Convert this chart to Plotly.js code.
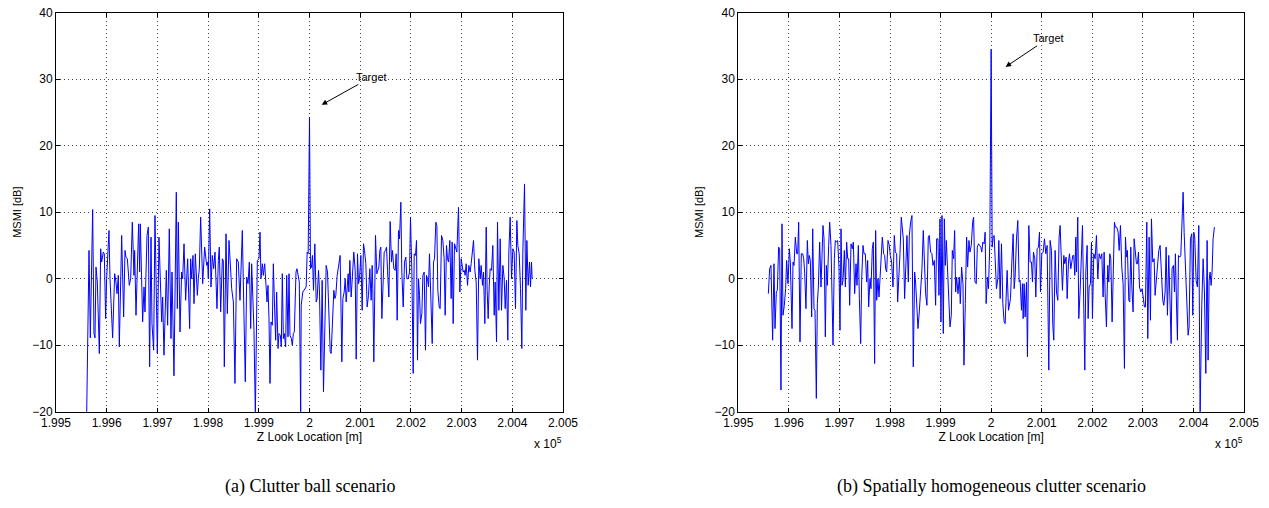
<!DOCTYPE html>
<html>
<head>
<meta charset="utf-8">
<script src="https://cdn.plot.ly/plotly-3.0.1.min.js"></script>
<style>html,body{margin:0;padding:0;background:#fff;}#chart{width:1269px;height:508px;}</style>
</head>
<body>
<div id="chart"></div>
<script>
// Z look location offsets in metres relative to 2.000 x 10^5 m, and MSMI in dB
// (a) Clutter ball scenario
const zOffsetA = [-439.5,-434.9,-432.3,-427.7,-425.1,-423.1,-421.1,-418.5,-414.5,-411.9,-410.0,-406.7,-404.7,-402.1,-400.1,-395.5,-393.5,-388.3,-384.3,-381.7,-379.7,-377.1,-375.1,-370.5,-366.6,-363.9,-362.0,-359.3,-355.4,-352.7,-349.5,-346.2,-344.9,-342.2,-337.0,-335.0,-333.7,-329.1,-326.4,-324.5,-320.5,-317.9,-315.3,-312.6,-310.7,-307.4,-304.8,-300.1,-296.9,-291.6,-289.6,-287.0,-282.4,-279.8,-276.5,-273.2,-271.2,-267.3,-262.7,-260.7,-258.7,-255.4,-252.2,-250.2,-247.5,-244.3,-240.3,-236.4,-234.4,-232.4,-229.8,-227.8,-225.2,-221.2,-219.3,-217.3,-214.7,-210.7,-206.8,-202.8,-200.9,-199.6,-196.9,-194.3,-191.7,-189.0,-186.4,-182.5,-179.8,-177.9,-175.2,-171.9,-170.0,-168.0,-164.7,-162.1,-158.8,-153.5,-150.2,-147.0,-143.7,-140.4,-137.1,-132.5,-129.2,-126.6,-123.9,-121.3,-118.7,-116.0,-114.1,-111.4,-109.5,-106.8,-102.9,-99.6,-97.6,-95.7,-93.0,-91.1,-88.4,-85.8,-83.8,-81.9,-79.9,-77.9,-75.9,-73.3,-71.3,-68.7,-66.7,-64.8,-62.1,-60.2,-57.5,-55.6,-53.6,-51.6,-49.6,-47.0,-45.0,-42.4,-40.4,-38.5,-35.8,-33.9,-31.9,-29.9,-26.6,-24.7,-22.0,-20.1,-17.4,-16.4,-13.2,-9.9,-6.6,-4.6,-2.6,0,2.0,3.9,5.9,7.9,10.5,13.2,15.1,17.8,19.7,22.4,25.0,27.6,30.2,32.9,35.5,38.1,40.8,42.7,45.4,48.0,50.0,51.9,54.6,57.9,60.5,63.8,65.8,68.4,70.4,72.3,75.0,76.3,77.6,79.6,82.2,84.8,87.4,90.1,92.1,94.7,96.7,98.6,101.3,103.9,106.5,108.5,111.1,113.7,116.4,119.0,121.6,123.6,124.9,126.9,130.2,132.8,134.8,136.8,138.7,140.7,142.7,144.7,147.3,149.9,151.9,153.9,156.5,159.1,161.7,163.7,166.3,169.0,171.0,172.9,175.6,177.5,180.2,182.1,184.8,187.4,190.0,192.0,194.6,197.3,199.2,201.9,204.5,206.5,209.1,211.1,213.0,215.0,217.0,218.9,221.6,223.6,226.2,228.8,230.8,232.8,234.7,236.7,239.3,242.0,244.6,246.6,249.2,251.2,253.1,255.8,257.7,260.4,263.0,265.6,267.6,270.2,272.2,274.2,276.8,279.4,281.4,283.4,286.0,288.0,290.6,293.9,296.5,299.2,301.1,303.1,305.1,307.0,309.0,311.7,314.3,316.9,318.9,321.5,323.5,326.1,328.8,331.4,334.0,336.6,338.6,341.2,343.2,345.8,348.5,350.4,352.4,354.4,356.4,359.0,361.6,364.3,366.2,368.9,370.8,373.5,376.1,378.7,381.4,384.0,386.0,388.6,391.2,393.2,395.8,398.5,401.1,403.7,406.3,409.0,410.9,413.6,416.2,418.8,420.8,424.1,426.7,428.7,431.3,434.0,435.9,437.9,439.2];
const msmiA = [-20.5,4.25,-8.9,10.4,-8.25,-8.9,1.75,-0.5,-11.25,4.5,2.5,4,3.75,-6,0,7.25,0,-8.9,0.75,-0.5,-2.25,0.5,-10.25,6.5,-5.75,4.25,3.25,3,-1,0,8.5,0.5,4.25,-5.5,8.25,1,8.25,-6.5,-1.25,-5,6.5,7.75,-13.25,6.25,-6.75,-10.75,9.5,-11.25,6.25,-6.5,-2.75,-11.5,1.25,-7,7.5,-9,1,-14.6,13,-4.5,8.5,-8,1,0,5.25,-3.25,3,-7.5,3,0,3.5,-3.75,3.75,-2.5,0,1.5,9.25,-0.75,4.75,2,2.5,0,10.5,-1.25,3.5,1.5,4,-4.5,2.75,4.75,-5,3,2.75,-13.25,6.75,-5.25,5.75,-1.5,-3.5,-15.75,3,2.5,-3.25,7.25,-5.75,-15.5,0.25,-0.75,2.5,-7.5,2.25,-4.25,-7.75,-20.5,2.75,3,7,0,2.25,0.5,2.25,-1,-3.5,-1,-6,-15.75,-6.5,-7,2.25,-4.75,-9.25,-2,-10.5,-8.25,-8.5,-10.25,0.75,-9,-8.25,-10.25,0.5,-8.75,0.75,-8.5,-9,-10,-8.25,-8,1,1.5,0.5,-0.5,-20.5,-4,-2,-1.5,-1.25,4,3.75,24.25,1.5,1.75,3.5,-1.75,5.25,-3.5,-3,1.25,-2,-13.75,-0.25,-17,-7,2,1,-5.5,-11,-11.25,-6.75,-1.75,-3,-2.5,0.5,2.5,3.5,-12.5,-3,-2,0,-3.5,0.75,0.75,-2,2.75,-2.75,1.75,4,1.25,-12.1,3.75,-0.75,0,3.5,-4.75,5.25,4.25,2.25,-4.25,-2.5,1.5,-3.25,2,-1.5,-12.5,6.5,0.75,1.5,1.75,4.25,4.75,-6,-1,4,4.25,4.75,1.25,-2.75,8.6,2.5,4.25,1.5,1.25,3.75,-6.25,7.25,6,11.5,1,-4.25,2.5,3.25,0,0,1,9.25,1,-14.25,3.75,3.5,5.75,-12.25,0,-2.5,-6.75,-5.25,0.5,1,-10.75,0.5,0,-1.25,3.75,-3.75,-9.75,2.5,3,8.5,8,-1.75,-4.25,-4.5,6.5,5.75,3,-5.5,5,3,2.5,5.75,-3,5.5,-6.75,5.25,4.5,4,10.75,-2,3,1.5,1,1.25,0.5,2.25,-1,2,1,2.25,3.75,5.75,1.25,-0.5,-12.25,3,0,2,-1,1,-6.75,7.75,-1.75,-6,-1.25,1.5,1.25,5,-5.5,-0.5,-9.5,8.5,-4.75,6,-4.75,2,0,-4.5,-0.25,-9.25,4,9.25,0,4.5,4,-4.5,8.75,5,3.75,-1.5,-10.5,4,14.25,-4.75,5.75,-1,2.5,-1.25,2.5,0];

// (b) Spatially homogeneous clutter scenario
const zOffsetB = [-440.6,-438.0,-435.4,-432.1,-429.4,-427.4,-424.8,-422.8,-420.2,-418.2,-415.6,-413.6,-411.6,-409.0,-406.4,-404.4,-401.7,-399.1,-397.1,-393.8,-391.8,-389.8,-387.2,-384.5,-382.6,-380.6,-378.0,-375.4,-372.7,-370.7,-368.8,-366.2,-363.5,-361.5,-359.6,-357.6,-354.9,-352.9,-350.3,-348.3,-345.7,-343.7,-341.7,-339.1,-336.5,-334.5,-332.5,-330.5,-327.9,-325.9,-323.9,-321.3,-319.3,-316.7,-314.7,-312.7,-310.1,-308.1,-305.5,-303.5,-300.9,-298.9,-296.9,-294.9,-292.9,-290.3,-288.3,-285.7,-283.7,-281.7,-279.8,-277.1,-274.5,-272.5,-269.9,-267.2,-265.3,-262.6,-260.6,-258.0,-256.0,-253.4,-251.4,-248.8,-246.2,-244.2,-242.2,-239.6,-237.6,-235.0,-233.0,-230.4,-228.4,-226.4,-223.8,-221.8,-219.8,-217.2,-215.2,-212.6,-210.6,-208.6,-206.6,-204.0,-201.4,-199.4,-196.8,-194.1,-191.5,-189.5,-186.9,-184.9,-182.3,-180.3,-177.7,-175.7,-173.7,-171.1,-169.1,-166.5,-163.8,-161.8,-159.2,-156.6,-154.0,-151.3,-149.4,-146.7,-144.7,-142.1,-139.5,-136.8,-134.2,-131.6,-129.6,-127.0,-124.3,-122.3,-119.7,-117.1,-115.1,-112.4,-109.8,-107.8,-105.2,-103.2,-101.2,-99.2,-97.2,-94.6,-92.6,-90.6,-88.6,-86.0,-84.1,-81.4,-78.8,-76.8,-74.2,-72.2,-70.2,-68.3,-65.6,-63.0,-61.0,-58.4,-55.7,-53.8,-51.1,-48.5,-46.5,-43.9,-41.9,-39.3,-36.6,-34.7,-32.0,-29.4,-27.4,-24.8,-22.8,-20.4,-18.5,-16.5,-13.8,-11.9,-9.9,-7.2,-5.3,-2.6,0,2.0,4.0,5.9,7.9,10.5,13.2,15.2,17.8,20.4,23.1,25.7,27.7,29.7,31.6,34.3,36.2,38.2,40.9,43.5,45.5,47.4,50.1,52.7,55.4,57.3,60.0,61.9,63.3,65.2,67.2,69.9,71.8,74.5,77.1,79.7,81.7,83.7,86.3,88.3,90.9,93.6,95.6,97.5,100.2,102.8,105.4,108.1,110.7,114.0,116.6,119.3,121.9,123.9,126.5,129.2,131.8,134.4,136.4,139.0,141.0,143.7,145.6,148.3,150.3,152.9,154.9,157.5,159.5,161.5,163.4,165.4,167.4,168.7,171.3,173.3,176.0,177.9,180.6,183.2,185.2,187.2,189.8,191.8,193.7,196.4,198.4,200.3,203.0,205.6,208.2,210.9,213.5,216.2,218.8,221.4,223.4,225.4,228.0,230.6,232.6,234.6,236.6,239.2,241.2,243.8,245.8,248.4,251.1,253.1,255.7,258.3,261.0,263.6,265.6,267.6,269.5,272.2,274.1,276.1,278.1,280.7,282.7,285.3,287.3,289.3,291.3,293.3,295.9,298.5,300.5,303.1,305.1,307.8,309.7,312.4,315.0,317.0,319.6,322.3,324.2,326.9,328.8,331.5,334.1,336.7,339.4,341.4,344.0,346.0,348.6,351.2,353.9,355.9,357.8,360.5,362.5,364.4,366.4,368.4,370.4,373.0,375.0,377.0,379.6,381.6,384.2,386.8,389.5,391.4,394.1,396.7,398.7,400.7,402.6,405.3,407.9,410.6,413.2,416.5,419.2,421.8,424.5,427.1,429.0,431.0,433.0,434.9,436.9,438.9,441.5];
const msmiB = [-2.25,1.5,2,-9.25,2.25,-7.5,-2,-1.75,4.75,4.5,-16.75,8.25,-5.5,-4,-1.5,2.75,-0.75,4.5,2.5,-7.5,2.5,2,6.25,3.75,3.75,8.5,-9.5,3.75,3.75,3,1,-4.5,5.75,2.25,3.5,2.75,-5.75,7.5,-4.5,-4.75,-18,-3.75,-1.25,5.5,-1.25,4,8,6,-8.75,2,-1,5,8.5,5,-1.25,-10,3,5.75,5.5,5.75,1.75,-7.75,7.5,-1,-0.25,4.25,-1.25,5.5,3,3,-4,5.25,4.5,5.5,-2.25,2.25,-1,5,-3,-9.75,0,5,3.75,3.75,-0.5,2.75,-4.25,0,-1.5,4.5,5.5,-12.75,7.25,-3.25,0,-2.75,0,4,6.25,3.75,3.5,1.5,1,5.75,5,3.5,2.5,-1.25,6.5,4,3.75,-3.5,2.5,3.75,9.25,8,6,-3,0.5,6.5,-0.5,6.5,8.5,9.5,-13.25,1,-0.5,-4.25,-7.5,-5,-2.5,1.5,7.25,1.75,-2.25,-4,6.25,6.5,4,3.75,2,2.75,-4,6,6,-2.5,9,-6.5,9.5,-8.25,9,2,5.75,1,-2.5,-7.25,-5.5,4.25,3,7.25,-2,0.25,-2.25,0.25,-3.75,1.75,-0.75,-13,-3.75,6.25,1.75,5.75,4,5,8.5,9.25,-0.5,-0.75,4.75,5.25,5,4.75,4,5.5,5.25,7,-3.75,0.25,-1.5,5.5,34.5,4.75,6.25,6.5,3,-1.5,0,5.75,-3,5.25,-3.75,-6.5,-6.75,-0.25,1.25,-4.75,-3.75,-3,2.5,6.75,-1.5,0.25,6,8.75,-0.5,-0.25,-4.75,-0.75,-6,-0.75,-5.75,-0.5,-11.75,8,2.5,2.5,-0.5,4,3,-2.75,4.5,4.75,7,-2,3.75,4,6,3.75,5,-13.75,5.75,4.25,-7,-9.25,4.25,-2,-3.25,6.25,8,0.25,-1.75,3.5,2.25,3.25,-3,2.5,3.75,1.5,3,3.5,3.5,0.5,6.25,1,9.25,-6,-1.75,2.5,8,-4.5,-13.75,1,5,-6,-1.25,-0.75,5.5,-6,3.75,3,6.5,0,3.75,3,3.75,-2.75,4,-2.25,-7.25,2,-0.5,3.75,3,-6.5,3,8.5,7.75,7.75,7,4.25,8,1.75,-0.75,-13.5,6.25,3.25,4.25,-3.25,-3.5,4.75,-1,-5,6,4.25,2.25,2.25,4,-1.25,-2,-1.5,-2.75,-4.25,-4.25,8.5,-9,6.25,-6.25,9,2.5,3,-2.5,0,2.25,4.25,5,-0.5,-3.25,-4,-2,4.75,-5.5,3.5,-3,-9.75,1.5,2,-2,3.75,-3.5,-9.25,3.5,3.25,3.5,7,13,7,1,-3.5,-8.5,-7.25,6,6.75,-5.5,7,6.25,-0.25,-1.25,8,-20.5,-4,3,-2,-14.25,5.75,-12.25,-0.25,1,-1,1,6,7.75];

const xTickVals = [1.995,1.996,1.997,1.998,1.999,2.000,2.001,2.002,2.003,2.004,2.005];
const xTickText = ['1.995','1.996','1.997','1.998','1.999','2','2.001','2.002','2.003','2.004','2.005'];
const yTickVals = [-20,-10,0,10,20,30,40];
const targetA = {head: [24, 26.15], text: [123, 30.35]};
const targetB = {head: [28.6, 31.85], text: [113, 36.15]};
const captions = ['(a) Clutter ball scenario', '(b) Spatially homogeneous clutter scenario'];

const W = 1269, H = 508;
const toX = off => 2 + off / 1e5;   // axis unit: x 10^5 m

const lineStyle = {color: '#0000ff', width: 1};
const traces = [
  {x: zOffsetA.map(toX), y: msmiA, type: 'scatter', mode: 'lines', line: lineStyle, xaxis: 'x', yaxis: 'y', hoverinfo: 'skip'},
  {x: zOffsetB.map(toX), y: msmiB, type: 'scatter', mode: 'lines', line: lineStyle, xaxis: 'x2', yaxis: 'y2', hoverinfo: 'skip'}
];

const axFont = {family: 'Liberation Sans, Arial, Helvetica, sans-serif', size: 12, color: '#000'};
function xAxis(dom, anchor) {
  return {
    domain: dom, anchor: anchor, range: [1.995, 2.005], tickmode: 'array',
    tickvals: xTickVals, ticktext: xTickText, ticks: 'inside', ticklen: 4, tickcolor: '#000',
    showline: true, linecolor: '#000', linewidth: 1, mirror: 'ticks',
    showgrid: true, gridcolor: 'rgba(0,0,0,0.75)', gridwidth: 1, griddash: '1px,3px',
    zeroline: false, tickfont: axFont, ticklabelstandoff: 0,
    title: {text: 'Z Look Location [m]', font: {family: axFont.family, size: 12, color: '#000'}, standoff: 2}
  };
}
function yAxis(anchor) {
  return {
    domain: [1 - 411.7 / H, 1 - 12.7 / H], anchor: anchor, range: [-20, 40], tickmode: 'array',
    tickvals: yTickVals, ticks: 'inside', ticklen: 4, tickcolor: '#000',
    showline: true, linecolor: '#000', linewidth: 1, mirror: 'ticks',
    showgrid: true, gridcolor: 'rgba(0,0,0,0.75)', gridwidth: 1, griddash: '1px,3px',
    zeroline: false, tickfont: axFont,
    title: {text: 'MSMI [dB]', font: {family: axFont.family, size: 11, color: '#000'}, standoff: 8}
  };
}

const annFont = {family: 'Liberation Sans, Arial, Helvetica, sans-serif', size: 11, color: '#000'};
function targetAnn(t, xr, yr) {
  return {x: toX(t.head[0]), y: t.head[1], xref: xr, yref: yr, axref: xr, ayref: yr,
    ax: toX(t.text[0]), ay: t.text[1], text: 'Target', showarrow: true,
    arrowhead: 2, arrowsize: 1.1, arrowwidth: 1, arrowcolor: '#000', font: annFont};
}

const capFont = {family: 'Liberation Serif, Times New Roman, serif', size: 18, color: '#000'};
const expFont = {family: axFont.family, size: 12, color: '#000'};
const layout = {
  width: W, height: H, margin: {l: 0, r: 0, t: 0, b: 0},
  paper_bgcolor: '#fff', plot_bgcolor: '#fff', showlegend: false,
  xaxis: xAxis([56 / W, 563 / W], 'y'),
  yaxis: yAxis('x'),
  xaxis2: xAxis([738.3 / W, 1244 / W], 'y2'),
  yaxis2: yAxis('x2'),
  annotations: [
    targetAnn(targetA, 'x', 'y'),
    targetAnn(targetB, 'x2', 'y2'),
    {x: 564 / W, y: 1 - 443 / H, xref: 'paper', yref: 'paper', xanchor: 'right', yanchor: 'middle',
      text: 'x 10<sup>5</sup>', showarrow: false, font: expFont},
    {x: 1245 / W, y: 1 - 443 / H, xref: 'paper', yref: 'paper', xanchor: 'right', yanchor: 'middle',
      text: 'x 10<sup>5</sup>', showarrow: false, font: expFont},
    {x: 309.5 / W, y: 1 - 486 / H, xref: 'paper', yref: 'paper', xanchor: 'center', yanchor: 'middle',
      text: captions[0], showarrow: false, font: capFont},
    {x: 991 / W, y: 1 - 486 / H, xref: 'paper', yref: 'paper', xanchor: 'center', yanchor: 'middle',
      text: captions[1], showarrow: false, font: capFont}
  ]
};

Plotly.newPlot('chart', traces, layout, {staticPlot: true, displayModeBar: false});
</script>
</body>
</html>
